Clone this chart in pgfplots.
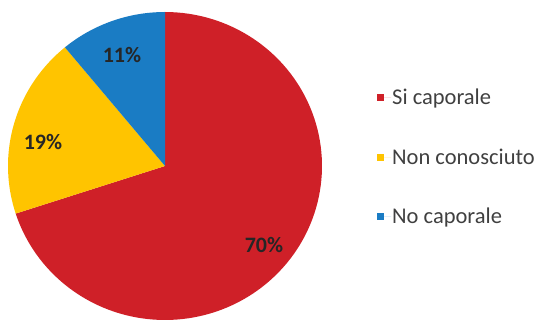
\documentclass[border=0pt]{standalone}
\usepackage{pgfplots}
\pgfplotsset{compat=1.18}
\usepackage{fontspec}
\setmainfont{Carlito}
\definecolor{cred}{RGB}{207,32,40}
\definecolor{cyel}{RGB}{255,196,0}
\definecolor{cblue}{RGB}{26,124,196}
\definecolor{ctxt}{RGB}{64,64,64}
\begin{document}
\begin{tikzpicture}
\begin{axis}[
  at={(0,0)}, anchor=south west,
  width=537bp, height=322bp, scale only axis,
  xmin=0, xmax=537, ymin=0, ymax=322,
  hide axis, clip=false,
  legend cell align=left,
  legend image code/.code={\fill[#1,draw=none] (0bp,-3.6bp) rectangle (7bp,3.6bp); \path (0bp,0bp) -- (14bp,0bp);},
  legend style={at={(axis cs:377,234)}, anchor=north west, draw=none, fill=none,
    inner sep=0pt, row sep=40.5bp, font=\fontsize{22.5bp}{26bp}\selectfont\color{ctxt},
    nodes={inner sep=1pt}},
]
% slices: Si caporale 70%, Non conosciuto 19%, No caporale 11% (clockwise from 90 deg)
\addplot[fill=cred, draw=none, domain=-162:90, samples=120, variable=\t]
  ({165+157*cos(\t)},{156+154*sin(\t)}) -- (axis cs:165,156) -- cycle;
\addlegendentry{Si caporale}
\addplot[fill=cyel, draw=none, domain=129.6:198, samples=40, variable=\t]
  ({165+157*cos(\t)},{156+154*sin(\t)}) -- (axis cs:165,156) -- cycle;
\addlegendentry{Non conosciuto}
\addplot[fill=cblue, draw=none, domain=90:129.6, samples=30, variable=\t]
  ({165+157*cos(\t)},{156+154*sin(\t)}) -- (axis cs:165,156) -- cycle;
\addlegendentry{No caporale}
\node[font=\fontsize{22bp}{26bp}\selectfont\bfseries, text=black!85] at (axis cs:264,77) {70\%};
\node[font=\fontsize{22bp}{26bp}\selectfont\bfseries, text=black!85] at (axis cs:43,180) {19\%};
\node[font=\fontsize{22bp}{26bp}\selectfont\bfseries, text=black!85] at (axis cs:122,267) {11\%};
\end{axis}
\pgfresetboundingbox
\useasboundingbox (0,0) rectangle (537bp,322bp);
\end{tikzpicture}
\end{document}
